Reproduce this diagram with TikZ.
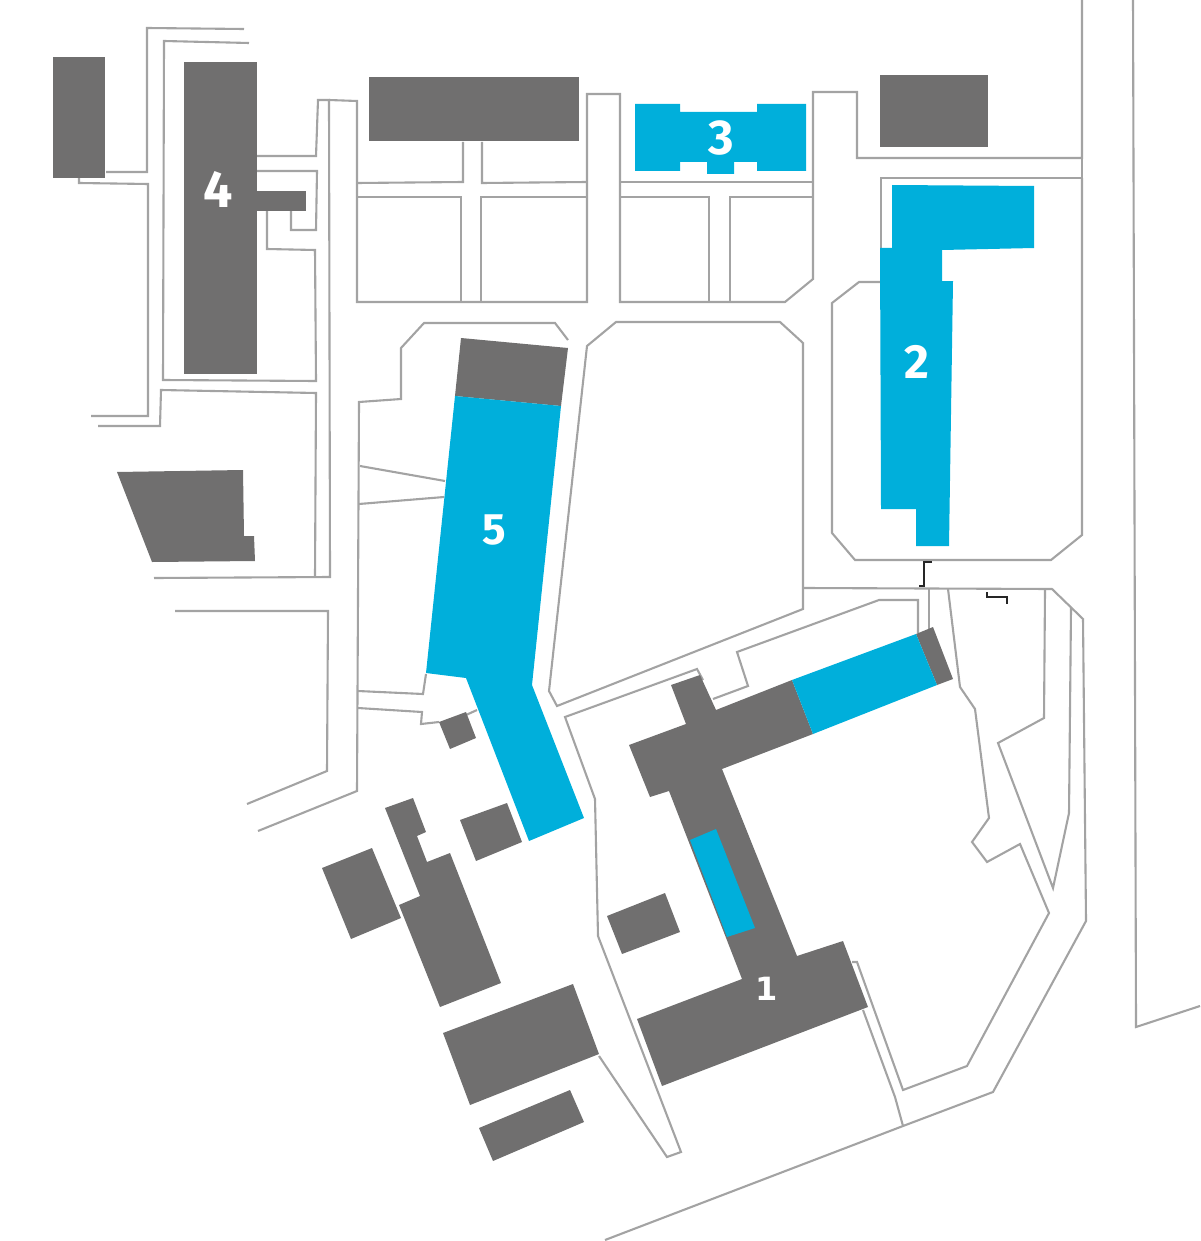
\documentclass[tikz,border=0pt]{standalone}
\usepackage{fontspec}
\setmainfont{Fira Sans}
\newfontfamily\footfont{DejaVu Sans}
\usepackage{xcolor}
\definecolor{hallgray}{HTML}{706F6F}
\definecolor{hallblue}{HTML}{00AFDB}
\definecolor{pathgray}{HTML}{A3A3A3}

\begin{document}
\begin{tikzpicture}[x=1pt,y=-1pt]
  \tikzset{pathline/.style = {draw=pathgray,line width=2.1pt,line join=miter}}
  \tikzset{hall/.style = {fill=hallgray}}
  \tikzset{bluehall/.style = {fill=hallblue}}
  \tikzset{gate/.style = {draw=black!85,line join=miter}}
  \tikzset{number/.style = {text=white,inner sep=0pt}}

  \useasboundingbox (0,0) rectangle (1200,1241);

  % paths, top left
  \path[pathline] (244,29) -- (147,28) -- (147,172) -- (106,172);
  \path[pathline] (249,43) -- (164,41) -- (163,380) -- (316,381) -- (315,250) -- (267,249) -- (267,211);
  \path[pathline] (79,178) -- (79,183) -- (148,184) -- (148,416) -- (91,416);
  \path[pathline] (98,426) -- (160,426) -- (161,390) -- (316,393) -- (315,577);
  \path[pathline] (154,578) -- (330,577) -- (329,100) -- (318,100) -- (316,156) -- (257,156);
  \path[pathline] (257,171) -- (317,171) -- (316,230) -- (291,230) -- (291,211);
  \path[pathline] (175,611) -- (328,611) -- (327,771) -- (247,804);

  % paths, top middle
  \path[pathline] (329,100) -- (357,101) -- (357,302) -- (587,302) -- (587,94) -- (620,94) -- (620,302)
    -- (785,302) -- (813,279) -- (813,92) -- (857,92) -- (857,158) -- (1082,158) -- (1082,0);
  \path[pathline] (357,183) -- (463,182) -- (463,142);
  \path[pathline] (482,142) -- (482,183) -- (587,182);
  \path[pathline] (357,197) -- (461,197) -- (461,302);
  \path[pathline] (481,301) -- (481,197) -- (587,197);
  \path[pathline] (620,182) -- (813,182);
  \path[pathline] (620,197) -- (709,197) -- (709,302);
  \path[pathline] (730,301) -- (730,197) -- (813,197);

  % paths, around hall 2
  \path[pathline] (1082,158) -- (1082,178) -- (881,178) -- (881,248);
  \path[pathline] (882,282) -- (859,282) -- (832,303) -- (832,533) -- (855,560) -- (1051,560) -- (1082,535) -- (1082,178);

  % paths, around hall 5
  \path[pathline] (258,831) -- (357,791) -- (359,402) -- (401,399) -- (401,348) -- (424,323) -- (555,323) -- (568,340);
  \path[pathline] (360,466) -- (445,481);
  \path[pathline] (359,504) -- (444,497);
  \path[pathline] (358,691) -- (423,694) -- (426,674);
  \path[pathline] (358,708) -- (422,712) -- (421,724) -- (439,722);
  \path[pathline] (466,715) -- (477,710);

  % paths, centre
  \path[pathline] (587,346) -- (616,322) -- (780,322) -- (803,343) -- (803,609) -- (557,706) -- (549,691) -- cycle;
  \path[pathline] (703,680) -- (697,669) -- (565,717) -- (595,799) -- (598,936) -- (681,1152) -- (667,1157) -- (599,1056);
  \path[pathline] (713,699) -- (748,686) -- (737,652) -- (879,600) -- (918,600) -- (918,633);
  \path[pathline] (605,1240) -- (903,1126) -- (993,1092) -- (1086,921) -- (1083,619) -- (1052,589) -- (804,588);
  \path[pathline] (929,588) -- (929,630);

  % paths, right
  \path[pathline] (948,589) -- (960,687) -- (975,709) -- (989,818) -- (972,842) -- (987,862) -- (1020,844)
    -- (1049,913) -- (967,1066) -- (903,1090) -- (857,962) -- (852,962);
  \path[pathline] (1045,590) -- (1044,718) -- (998,743) -- (1053,888) -- (1069,813) -- (1071,608);
  \path[pathline] (863,1010) -- (895,1097) -- (903,1126);
  \path[pathline] (1133,0) -- (1136,1027) -- (1200,1006);

  % gates
  \path[gate,line width=2.6pt] (932,562) -- (924,562) -- (924,586) -- (919,586);
  \path[gate,line width=1.8pt] (987,592) -- (987,597) -- (1007,597) -- (1007,604);

  % grey halls
  \path[hall] (53,57) rectangle (105,178);
  \path[hall] (184,62) rectangle (257,374);
  \path[hall] (257,191) rectangle (306,211);
  \path[hall] (369,77) rectangle (579,141);
  \path[hall] (880,75) rectangle (988,147);
  \path[hall] (117,472) -- (243,470) -- (244,536) -- (254,536) -- (255,561) -- (152,562) -- cycle;
  \path[hall] (461,338) -- (568,348) -- (561,406) -- (455,396) -- cycle;
  \path[hall] (439,722) -- (466,712) -- (476,738) -- (450,749) -- cycle;
  \path[hall] (460,820) -- (507,803) -- (522,842) -- (476,861) -- cycle;
  \path[hall] (385,808) -- (413,798) -- (426,832) -- (417,836) -- (427,862) -- (450,853) -- (501,983)
    -- (440,1007) -- (399,905) -- (420,896) -- cycle;
  \path[hall] (322,868) -- (372,848) -- (401,918) -- (351,939) -- cycle;
  \path[hall] (443,1033) -- (573,984) -- (599,1054) -- (470,1105) -- cycle;
  \path[hall] (479,1128) -- (570,1090) -- (584,1122) -- (493,1161) -- cycle;
  \path[hall] (607,916) -- (665,893) -- (680,932) -- (622,954) -- cycle;
  \path[hall] (671,685) -- (700,675) -- (716,710) -- (792,680) -- (813,734) -- (722,769) -- (797,956)
    -- (843,941) -- (868,1007) -- (662,1086) -- (637,1019) -- (742,979) -- (669,791) -- (650,797)
    -- (629,745) -- (686,724) -- cycle;
  \path[hall] (916,634) -- (933,627) -- (953,679) -- (937,685) -- cycle;

  % blue halls
  \path[bluehall] (792,680) -- (916,634) -- (937,685) -- (813,734) -- cycle;
  \path[bluehall] (690,840) -- (716,829) -- (755,928) -- (727,937) -- cycle;
  \path[bluehall] (635,104) -- (680,104) -- (680,112) -- (757,112) -- (757,104) -- (806,104) -- (806,171)
    -- (757,171) -- (757,162) -- (734,162) -- (734,174) -- (707,174) -- (707,162) -- (680,162)
    -- (680,171) -- (635,171) -- cycle;
  \path[bluehall] (892,185) -- (1034,186) -- (1034,248) -- (942,250) -- (942,281) -- (953,281) -- (949,546)
    -- (916,546) -- (916,509) -- (881,509) -- (880,248) -- (892,248) -- cycle;
  \path[bluehall] (455,396) -- (561,406) -- (532,685) -- (584,818) -- (529,841) -- (466,678) -- (426,673) -- cycle;

  % numbers
  \node[number,font=\footfont\fontsize{32}{32}\selectfont\bfseries] (no1) at (767,989) {1};
  \node[number,font=\fontsize{48}{48}\selectfont\bfseries] (no2) at (917,362) {2};
  \node[number,font=\fontsize{49}{49}\selectfont\bfseries] (no3) at (721,138) {3};
  \node[number,font=\fontsize{52}{52}\selectfont\bfseries] (no4) at (218,189) {4};
  \node[number,font=\fontsize{44}{44}\selectfont\bfseries] (no5) at (494,530) {5};
\end{tikzpicture}
\end{document}
